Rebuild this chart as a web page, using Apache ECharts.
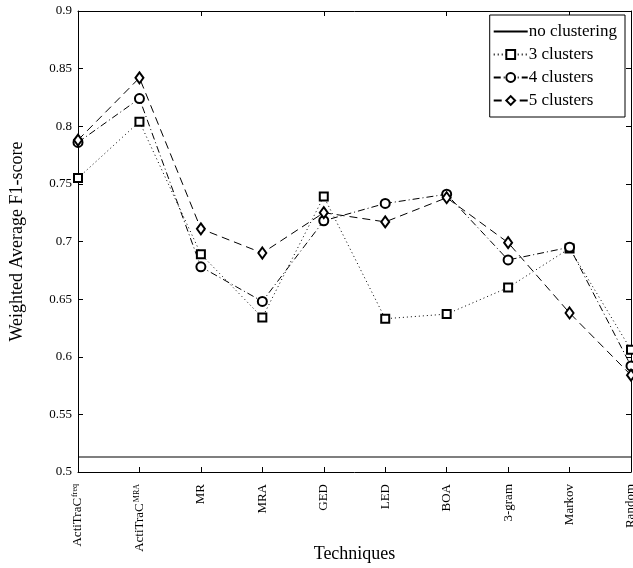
<!DOCTYPE html>
<html lang="en">
<head>
<meta charset="UTF-8" />
<title>Weighted Average F1-score</title>
<script src="https://cdn.jsdelivr.net/npm/echarts@6/dist/echarts.min.js"></script>
<style>
  html, body { margin: 0; padding: 0; background: #fff; }
  #main { width: 633px; height: 568px; }
</style>
</head>
<body>
<div id="main"></div>
<script type="text/javascript">
  // categories (the two ActiTraC ones get a superscript in the label formatter)
  var techniques = ['ActiTraCfreq', 'ActiTraCMRA', 'MR', 'MRA', 'GED', 'LED', 'BOA', '3-gram', 'Markov', 'Random'];
  var noClustering = [0.513, 0.513, 0.513, 0.513, 0.513, 0.513, 0.513, 0.513, 0.513, 0.513];
  var clusters3 = [0.755, 0.804, 0.689, 0.634, 0.739, 0.633, 0.637, 0.660, 0.694, 0.606];
  var clusters4 = [0.786, 0.824, 0.678, 0.648, 0.718, 0.733, 0.741, 0.684, 0.695, 0.592];
  var clusters5 = [0.788, 0.842, 0.711, 0.690, 0.725, 0.717, 0.738, 0.699, 0.638, 0.584];
  var yTicks = [0.5, 0.55, 0.6, 0.65, 0.7, 0.75, 0.8, 0.85, 0.9];

  var serif = '"Liberation Serif", "DejaVu Serif", serif';

  var myChart = echarts.init(document.getElementById('main'));

  function catLabel(v) {
    if (v === 'ActiTraCfreq') return '{b|ActiTraC}{s|freq}';
    if (v === 'ActiTraCMRA') return '{b|ActiTraC}{s|MRA}';
    return '{b|' + v + '}';
  }

  var option = {
    backgroundColor: '#fff',
    animation: false,
    textStyle: { fontFamily: serif, color: '#000' },
    grid: { left: 78, right: 2, top: 11, bottom: 96, containLabel: false, outerBoundsMode: 'none' },
    legend: {
      orient: 'vertical',
      right: 8,
      top: 15,
      padding: [8, 8, 8, 3],
      itemGap: 6,
      itemWidth: 34,
      itemHeight: 11,
      backgroundColor: '#fff',
      borderColor: '#000',
      borderWidth: 1,
      borderRadius: 0,
      textStyle: { fontFamily: serif, fontSize: 17, color: '#000', padding: [0, 0, 0, -4] },
      data: [
        { name: 'no clustering', itemStyle: { opacity: 0 } },
        '3 clusters', '4 clusters', '5 clusters'
      ]
    },
    xAxis: [{
      type: 'category',
      data: techniques,
      boundaryGap: false,
      name: 'Techniques',
      nameLocation: 'middle',
      nameGap: 73,
      nameMoveOverlap: false,
      nameTextStyle: { fontFamily: serif, fontSize: 18, color: '#000' },
      axisLine: { lineStyle: { color: '#000', width: 1 } },
      axisTick: { inside: true, length: 5, lineStyle: { color: '#000' } },
      axisLabel: {
        rotate: 90,
        margin: 12,
        interval: 0,
        formatter: catLabel,
        rich: {
          b: { fontFamily: serif, fontSize: 13, color: '#000' },
          s: { fontFamily: serif, fontSize: 8, color: '#000', verticalAlign: 'top', padding: [0, 0, 6, 1] }
        }
      },
      splitLine: { show: false }
    }, {
      type: 'category',
      position: 'top',
      data: techniques,
      boundaryGap: false,
      axisLine: { lineStyle: { color: '#000', width: 1 } },
      axisTick: { inside: true, length: 5, lineStyle: { color: '#000' } },
      axisLabel: { show: false },
      splitLine: { show: false }
    }],
    yAxis: [{
      type: 'value',
      min: 0.5,
      max: 0.9,
      interval: 0.05,
      name: 'Weighted Average F1-score',
      nameLocation: 'middle',
      nameGap: 52,
      nameMoveOverlap: false,
      nameTextStyle: { fontFamily: serif, fontSize: 18, color: '#000' },
      axisLine: { show: true, lineStyle: { color: '#000', width: 1 } },
      axisTick: { show: true, inside: true, length: 5, lineStyle: { color: '#000' } },
      axisLabel: {
        fontFamily: serif, fontSize: 13, color: '#000', margin: 6,
        formatter: function (v) {
          var t = yTicks.filter(function (k) { return Math.abs(k - v) < 1e-6; });
          return t.length ? String(t[0]) : '';
        }
      },
      splitLine: { show: false }
    }, {
      type: 'value',
      position: 'right',
      min: 0.5,
      max: 0.9,
      interval: 0.05,
      axisLine: { show: true, lineStyle: { color: '#000', width: 1 } },
      axisTick: { show: true, inside: true, length: 5, lineStyle: { color: '#000' } },
      axisLabel: { show: false },
      splitLine: { show: false }
    }],
    series: [{
      name: 'no clustering',
      type: 'line',
      data: noClustering,
      symbol: 'none',
      color: '#000',
      lineStyle: { color: '#000', width: 1.2, type: 'solid' }
    }, {
      name: '3 clusters',
      type: 'line',
      data: clusters3,
      symbol: 'emptyRect',
      symbolSize: 8,
      color: '#000',
      itemStyle: { borderWidth: 1 },
      lineStyle: { color: '#000', width: 1, type: [1, 3] }
    }, {
      name: '4 clusters',
      type: 'line',
      data: clusters4,
      symbol: 'emptyCircle',
      symbolSize: 9,
      color: '#000',
      itemStyle: { borderWidth: 1 },
      lineStyle: { color: '#000', width: 1, type: [7, 3, 1, 3] }
    }, {
      name: '5 clusters',
      type: 'line',
      data: clusters5,
      symbol: 'emptyDiamond',
      symbolSize: [8, 11],
      color: '#000',
      itemStyle: { borderWidth: 1 },
      lineStyle: { color: '#000', width: 1, type: [8, 5] }
    }]
  };

  myChart.setOption(option);
</script>
</body>
</html>
